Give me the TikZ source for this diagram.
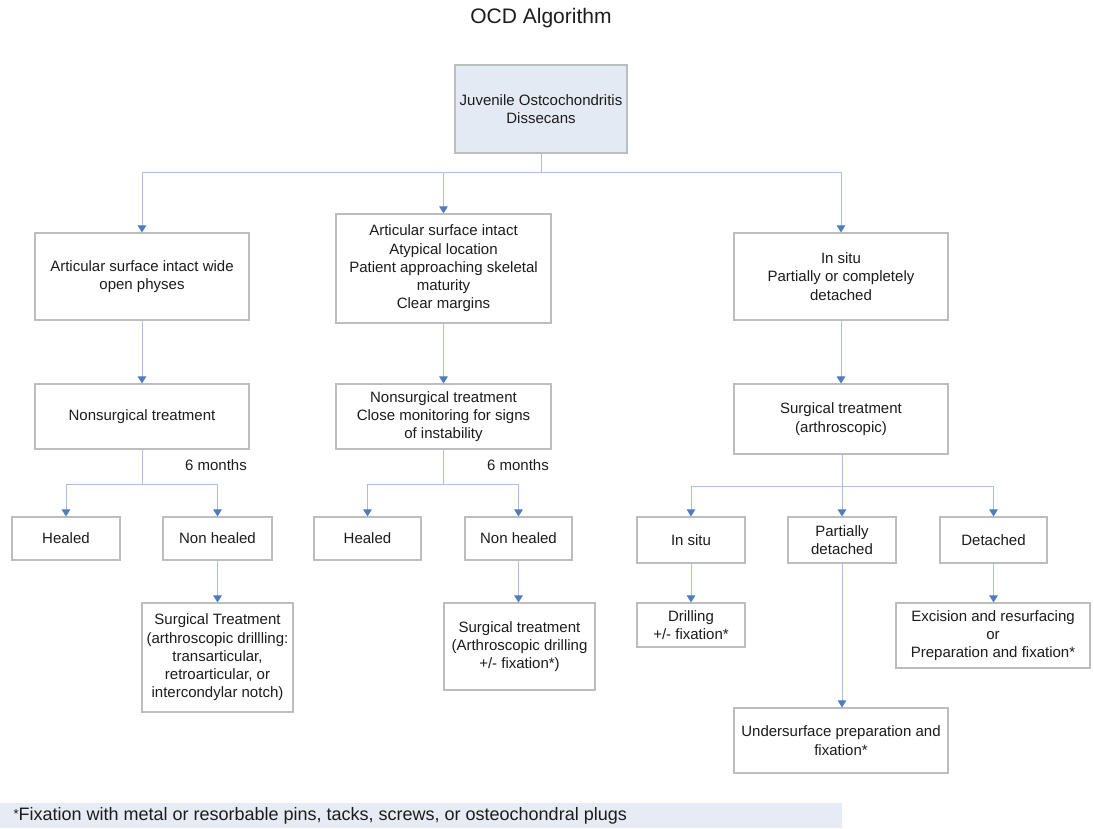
\documentclass[tikz,border=0pt]{standalone}
\usepackage{fontspec}
\setmainfont{Liberation Sans}
\usetikzlibrary{arrows.meta,shadows}

\definecolor{linkblue}{HTML}{A8C1E0}
\definecolor{tipblue}{HTML}{4E7DBF}
\definecolor{boxgray}{HTML}{BDBDBD}
\definecolor{rootfill}{HTML}{E4EAF3}
\definecolor{notefill}{HTML}{E7ECF4}
\definecolor{inkgray}{HTML}{1C1C1C}

\tikzset{
  box/.style 2 args={draw=boxgray, line width=1.1pt, fill=white, align=center,
    minimum width=#1pt, minimum height=#2pt, inner sep=2pt,
    drop shadow={shadow xshift=0.7pt, shadow yshift=-0.7pt, fill=black!25}},
  link/.style={linkblue, line width=1pt},
  arr/.style={link, -{Triangle[width=8.5pt,length=7pt,color=tipblue]}},
  lbl/.style={text=inkgray, font=\fontsize{15}{18.3}\selectfont},
}

\begin{document}
\begin{tikzpicture}[x=1pt, y=-1pt, every node/.style={lbl}]
\useasboundingbox (0,0) rectangle (1094,828);

\node (title) at (541,18) {\fontsize{21}{24}\selectfont OCD Algorithm};

\node[box={172}{88}, fill=rootfill] (root) at (541,109) {Juvenile Ostcochondritis\\Dissecans};

% first level
\node[box={214}{87}] (surfWide) at (142,276.5) {Articular surface intact wide\\open physes};
\node[box={215}{109}] (surfAtyp) at (443.5,268.5) {Articular surface intact\\Atypical location\\Patient approaching skeletal\\maturity\\Clear margins};
\node[box={214}{87}] (insituDet) at (841,276.5) {In situ\\Partially or completely\\detached};

% treatment
\node[box={214}{65}] (nonsurgA) at (142,416.5) {Nonsurgical treatment};
\node[box={215}{65}] (nonsurgB) at (443.5,416.5) {Nonsurgical treatment\\Close monitoring for signs\\of instability};
\node[box={214}{70}] (surgArth) at (841,419) {Surgical treatment\\(arthroscopic)};

\node (sixA) at (216,465) {6 months};
\node (sixB) at (518,465) {6 months};

% outcomes
\node[box={108}{43}] (healA) at (66,538.5) {Healed};
\node[box={109}{43}] (nohealA) at (217.5,538.5) {Non healed};
\node[box={107}{43}] (healB) at (367.5,538.5) {Healed};
\node[box={107}{43}] (nohealB) at (518.5,538.5) {Non healed};
\node[box={108}{46}] (insitu) at (691,540) {In situ};
\node[box={108}{46}] (partDet) at (842,540) {Partially\\detached};
\node[box={107}{46}] (detached) at (993.5,540) {Detached};

% final treatment
\node[box={151}{109}] (drillA) at (217.5,657.5) {Surgical Treatment\\(arthroscopic drillling:\\transarticular,\\retroarticular, or\\intercondylar notch)};
\node[box={151}{87}] (drillB) at (519.5,646.5) {Surgical treatment\\(Arthroscopic drilling\\+/- fixation*)};
\node[box={108}{44}] (drillC) at (691,625) {Drilling\\+/- fixation*};
\node[box={194}{65}] (excision) at (993,635.5) {Excision and resurfacing\\or\\Preparation and fixation*};
\node[box={214}{65}] (undersurf) at (841,740.5) {Undersurface preparation and\\fixation*};

% bus points
\coordinate (topBus) at (541,172);
\coordinate (leftBus) at (142,484);
\coordinate (midBus) at (443.5,484);
\coordinate (rightBus) at (842,486);

\draw[link] (root.south) -- (topBus);
\draw[arr] (topBus) -| (surfWide.north);
\draw[arr] (topBus) -| (surfAtyp.north);
\draw[arr] (topBus) -| (insituDet.north);

\draw[arr] (surfWide) -- (nonsurgA);
\draw[arr] (surfAtyp) -- (nonsurgB);
\draw[arr] (insituDet.south) -- (insituDet.south |- surgArth.north);

\draw[link] (nonsurgA.south) -- (leftBus);
\draw[arr] (leftBus) -| (healA.north);
\draw[arr] (leftBus) -| (nohealA.north);
\draw[link] (nonsurgB.south) -- (midBus);
\draw[arr] (midBus) -| (healB.north);
\draw[arr] (midBus) -| (nohealB.north);
\draw[link] (surgArth.south -| rightBus) -- (rightBus);
\draw[arr] (rightBus) -| (insitu.north);
\draw[arr] (rightBus) -- (partDet.north);
\draw[arr] (rightBus) -| (detached.north);

\draw[arr] (nohealA) -- (drillA);
\draw[arr] (nohealB) -- (nohealB.south |- drillB.north);
\draw[arr] (insitu) -- (drillC);
\draw[arr] (detached) -- (detached.south |- excision.north);
\draw[arr] (partDet.south) -- (partDet.south |- undersurf.north);

% footnote
\fill[notefill] (0,803) rectangle (842,828);
\node[anchor=west, font=\fontsize{18}{20}\selectfont] (note) at (10,816) {\raisebox{0.25ex}{\fontsize{13}{14}\selectfont*}Fixation with metal or resorbable pins, tacks, screws, or osteochondral plugs};
\end{tikzpicture}
\end{document}
